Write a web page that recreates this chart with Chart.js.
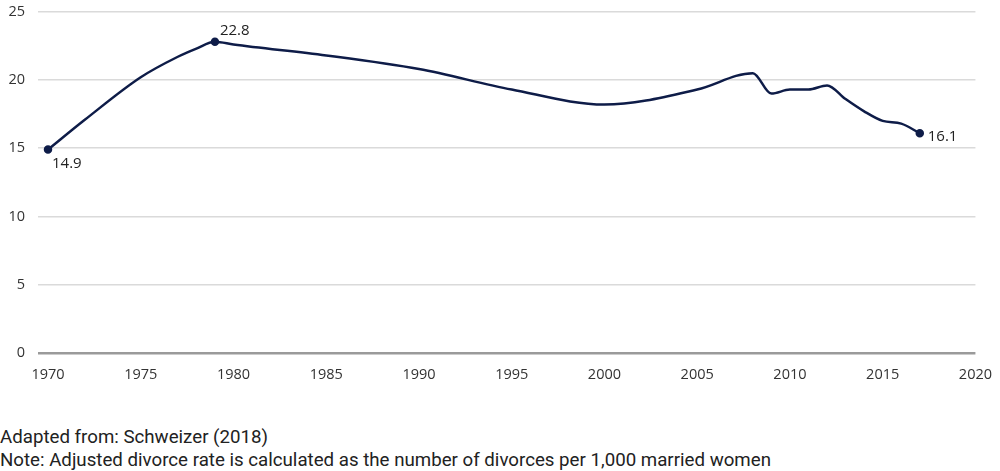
<!DOCTYPE html>
<html>
<head>
<meta charset="utf-8">
<script src="https://cdn.jsdelivr.net/npm/chart.js@4"></script>
<style>
    html, body { margin: 0; padding: 0; background: #fff; overflow: hidden; }
    #wrap { position: relative; width: 1000px; height: 471px; overflow: hidden; }
    #chartBox { position: absolute; left: 0; top: -10px; width: 1005px; height: 410px; }
    .note { position: absolute; left: 0; font-family: Roboto, sans-serif; font-size: 18.7px; line-height: 22px; color: #222; white-space: nowrap; }
</style>
</head>
<body>
<div id="wrap">
    <div id="chartBox"><canvas id="divorceChart"></canvas></div>
    <div class="note" style="top: 426px">Adapted from: Schweizer (2018)</div>
    <div class="note" style="top: 449px">Note: Adjusted divorce rate is calculated as the number of divorces per 1,000 married women</div>
</div>
<script>
const years = [1970, 1972, 1975, 1977, 1978, 1979, 1980, 1985, 1990, 1995, 2000, 2005, 2008, 2009, 2010, 2011, 2012, 2013, 2014, 2015, 2016, 2017]
const rates = [14.9, 17.1, 20.2, 21.7, 22.3, 22.8, 22.6, 21.8, 20.8, 19.3, 18.2, 19.3, 20.5, 19.0, 19.3, 19.3, 19.6, 18.6, 17.7, 17.0, 16.8, 16.1]
const labeledYears = [1970, 1979, 2017]
const yTicks = [0, 5, 10, 15, 20, 25]
const xTicks = [1970, 1975, 1980, 1985, 1990, 1995, 2000, 2005, 2010, 2015, 2020]

const lineColor = '#0e1c48'
const tickFont = { family: '"Open Sans", sans-serif', size: 14.5 }

// Draws the value next to the highlighted points
const pointLabels = {
    id: 'pointLabels',
    afterDatasetsDraw(chart) {
        const { ctx } = chart
        const meta = chart.getDatasetMeta(0)
        ctx.save()
        ctx.font = '15px "Open Sans", sans-serif'
        ctx.fillStyle = '#222'
        ctx.textBaseline = 'middle'
        ctx.textAlign = 'left'
        years.forEach((year, i) => {
            if (!labeledYears.includes(year)) return
            const pt = meta.data[i]
            const text = rates[i].toFixed(1)
            if (i === 0) {
                ctx.fillText(text, pt.x + 4, pt.y + 14)
            } else if (i === years.length - 1) {
                ctx.fillText(text, pt.x + 8, pt.y + 4)
            } else {
                ctx.fillText(text, pt.x + 5, pt.y - 11)
            }
        })
        ctx.restore()
    }
}

new Chart(document.getElementById('divorceChart'), {
    type: 'line',
    data: {
        datasets: [{
            data: years.map((year, i) => ({ x: year, y: rates[i] })),
            borderColor: lineColor,
            backgroundColor: lineColor,
            borderWidth: 2.5,
            cubicInterpolationMode: 'monotone',
            pointRadius: years.map(year => labeledYears.includes(year) ? 3 : 0),
            pointHoverRadius: 0,
            clip: false,
            fill: false
        }]
    },
    options: {
        responsive: true,
        maintainAspectRatio: false,
        animation: false,
        layout: { padding: { top: 2, right: 0, bottom: 7, left: 0 } },
        plugins: {
            legend: { display: false },
            tooltip: { enabled: false }
        },
        scales: {
            x: {
                type: 'linear',
                min: 1970,
                max: 2020,
                afterBuildTicks: scale => { scale.ticks = xTicks.map(value => ({ value })) },
                afterFit: scale => { scale.height = 40 },
                ticks: {
                    padding: 13,
                    color: '#333',
                    font: tickFont,
                    callback: value => String(value)
                },
                grid: { display: false, drawTicks: false },
                border: { display: false }
            },
            y: {
                min: 0,
                max: 25,
                afterBuildTicks: scale => { scale.ticks = yTicks.map(value => ({ value })) },
                afterFit: scale => { scale.width = 48 },
                ticks: {
                    padding: 13,
                    color: '#333',
                    font: tickFont
                },
                grid: {
                    color: ctx => ctx.tick && ctx.tick.value === 0 ? '#9a9a9a' : '#dadada',
                    lineWidth: ctx => ctx.tick && ctx.tick.value === 0 ? 2.5 : 1.5,
                    tickLength: 10,
                    tickColor: ctx => ctx.tick && ctx.tick.value === 0 ? '#9a9a9a' : '#dadada'
                },
                border: { display: false }
            }
        }
    },
    plugins: [pointLabels]
})
</script>
</body>
</html>
